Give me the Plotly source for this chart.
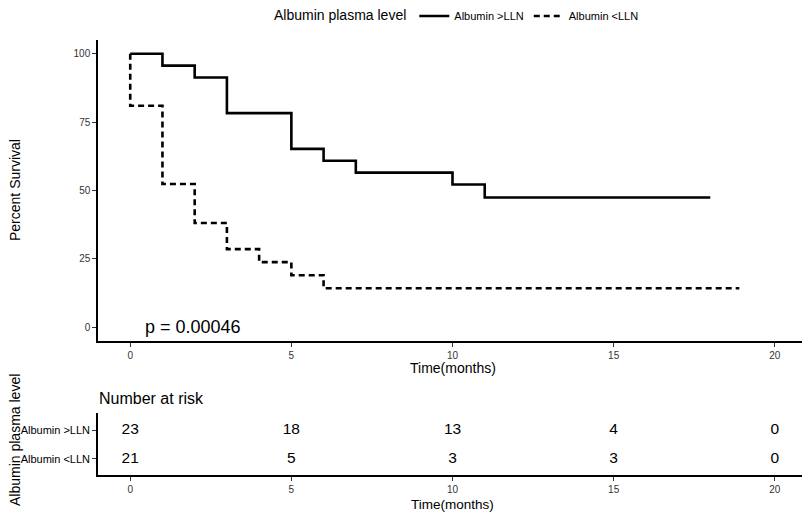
import plotly.graph_objects as go

# ---- data ----
grp_names = ["Albumin &gt;LLN", "Albumin &lt;LLN"]
t_hi = [0, 1, 2, 3, 5, 6, 7, 10, 11, 18]
s_hi = [100, 95.65, 91.30, 78.26, 65.22, 60.87, 56.52, 52.17, 47.43, 47.43]
t_lo = [0, 0, 1, 2, 3, 4, 5, 6, 18.9]
s_lo = [100, 80.95, 52.38, 38.10, 28.57, 23.81, 19.05, 14.29, 14.29]
risk_times = [0, 5, 10, 15, 20]
risk_hi = [23, 18, 13, 4, 0]
risk_lo = [21, 5, 3, 3, 0]
x_ticks = [0, 5, 10, 15, 20]
y_ticks = [0, 25, 50, 75, 100]
p_text = "p = 0.00046"

FONT = "Liberation Sans, Arial, sans-serif"

# page has an 8px body margin; work in screen pixels and convert
OFF = 8
W, H = 810 - OFF, 514 - OFF
ml, mr, mt, mb = 98 - OFF, W - (807 - OFF), 40 - OFF, H - (475 - OFF)
ph = H - mt - mb
pw = W - ml - mr


def px(xs):
    return (xs - OFF - ml) / pw


def py(ys):
    return (H - mb - (ys - OFF)) / ph


main_dom = [py(341), 1]
risk_dom = [0, py(413)]

fig = go.Figure()
fig.add_trace(go.Scatter(x=t_hi, y=s_hi, mode="lines", line=dict(shape="hv", color="black", width=2.6),
                         name=grp_names[0], xaxis="x", yaxis="y"))
fig.add_trace(go.Scatter(x=t_lo, y=s_lo, mode="lines",
                         line=dict(shape="hv", color="black", width=2.6, dash="6px,4px"),
                         name=grp_names[1], xaxis="x", yaxis="y"))
fig.add_trace(go.Scatter(x=risk_times, y=[grp_names[0]] * len(risk_times), mode="text",
                         text=[str(v) for v in risk_hi], textfont=dict(size=15.5, color="black", family=FONT),
                         showlegend=False, xaxis="x2", yaxis="y2", hoverinfo="skip"))
fig.add_trace(go.Scatter(x=risk_times, y=[grp_names[1]] * len(risk_times), mode="text",
                         text=[str(v) for v in risk_lo], textfont=dict(size=15.5, color="black", family=FONT),
                         showlegend=False, xaxis="x2", yaxis="y2", hoverinfo="skip"))

axis_common = dict(showline=True, linecolor="black", linewidth=1.5, ticks="outside", ticklen=4,
                   tickcolor="#333333", tickwidth=1, showgrid=False, zeroline=False, automargin=False,
                   tickfont=dict(size=10, color="#333333", family=FONT))

fig.update_layout(
    width=W, height=H, margin=dict(l=ml, r=mr, t=mt, b=mb, autoexpand=False),
    plot_bgcolor="white", paper_bgcolor="white",
    font=dict(family=FONT, color="black"),
    xaxis=dict(range=[-1, 21], tickvals=x_ticks, anchor="y", **axis_common),
    yaxis=dict(range=[-5, 105], tickvals=y_ticks, domain=main_dom, anchor="x", **axis_common),
    xaxis2=dict(range=[-1, 21], tickvals=x_ticks, anchor="y2", **axis_common),
    yaxis2=dict(range=[-0.57, 1.61], type="category", categoryorder="array",
                categoryarray=[grp_names[1], grp_names[0]], domain=risk_dom, anchor="x2",
                **{**axis_common, "tickfont": dict(size=11, color="black", family=FONT)}),
    legend=dict(orientation="h", x=px(272), xanchor="left", y=py(16),
                yanchor="middle", title=dict(text="Albumin plasma level", font=dict(size=14, family=FONT)),
                font=dict(size=11, family=FONT), tracegroupgap=0),
    showlegend=True,
)

fig.add_annotation(x=0.4, y=0, xref="x", yref="y", text=p_text, showarrow=False,
                   xanchor="left", yanchor="middle", font=dict(size=18, family=FONT))
fig.add_annotation(x=0.5, y=py(368), xref="paper", yref="paper", text="Time(months)",
                   showarrow=False, xanchor="center", yanchor="middle", font=dict(size=14, family=FONT))
fig.add_annotation(x=0.5, y=py(504), xref="paper", yref="paper", text="Time(months)",
                   showarrow=False, xanchor="center", yanchor="middle", font=dict(size=13.5, family=FONT))
fig.add_annotation(x=px(15), y=py(190), xref="paper", yref="paper",
                   text="Percent Survival", textangle=-90, showarrow=False, xanchor="center",
                   yanchor="middle", font=dict(size=14, family=FONT))
fig.add_annotation(x=px(15), y=py(440), xref="paper", yref="paper",
                   text="Albumin plasma level", textangle=-90, showarrow=False, xanchor="center",
                   yanchor="middle", font=dict(size=14, family=FONT))
fig.add_annotation(x=px(97), y=py(398), xref="paper", yref="paper", text="Number at risk",
                   showarrow=False, xanchor="left", yanchor="middle", font=dict(size=16, family=FONT))

fig.write_html("out.html")
